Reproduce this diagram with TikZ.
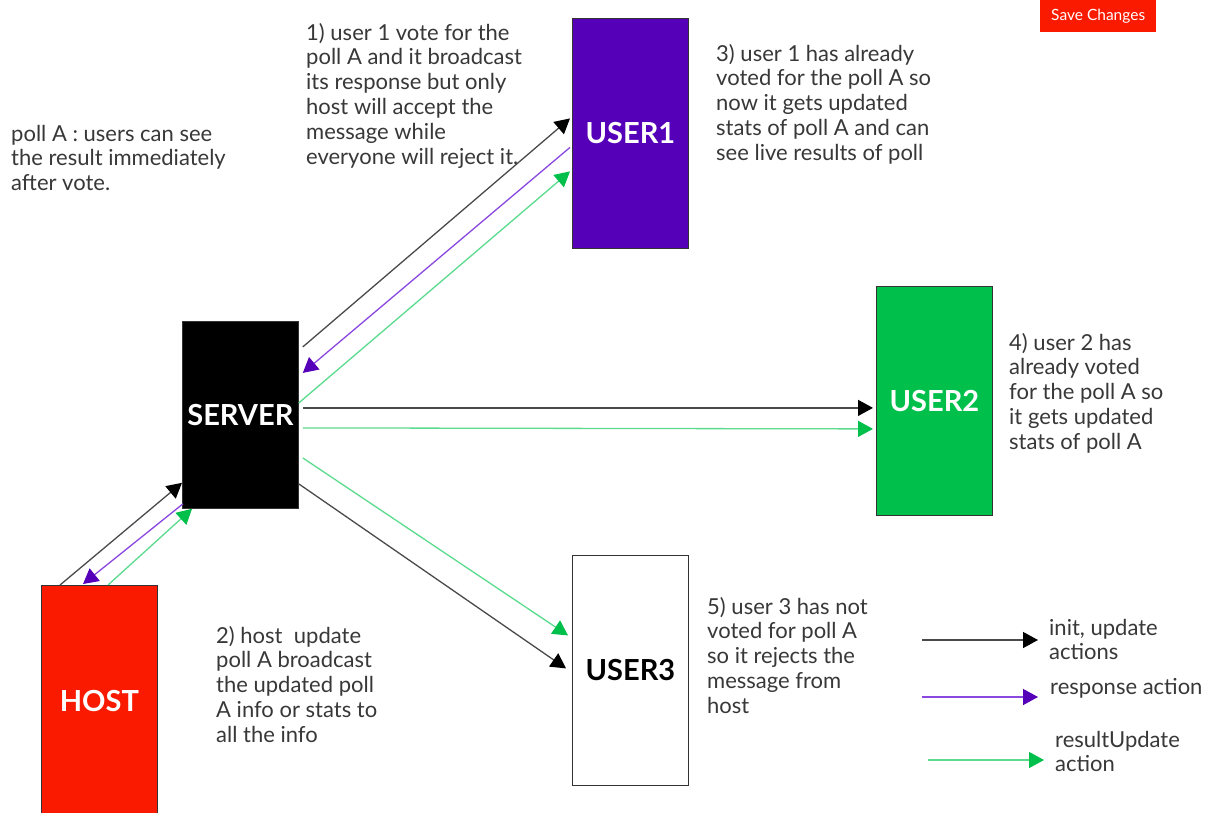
\documentclass[tikz,border=0pt]{standalone}
\usepackage{fontspec}
\setmainfont{Lato}
\usetikzlibrary{arrows.meta}

\definecolor{txt}{HTML}{383838}
\definecolor{userpurple}{HTML}{5500B8}
\definecolor{usergreen}{HTML}{00C04B}
\definecolor{hostred}{HTML}{F91A00}
\definecolor{lineblack}{HTML}{4A4A4A}
\definecolor{linepurple}{HTML}{8A48E0}
\definecolor{linegreen}{HTML}{5BDB8E}

\tikzset{
  actor/.style={draw=black!80, line width=0.8pt, anchor=north west, inner sep=0pt,
    minimum width=116pt, font=\fontsize{29}{30}\selectfont\bfseries, text=white},
  % notes are placed by the baseline of their last line
  note/.style={anchor=base west, align=left, inner sep=0pt, text=txt,
    font=\fontsize{22}{24.8}\selectfont},
  initarrow/.style={draw=lineblack, line width=1.3pt, -{Triangle[length=15pt, width=16pt, color=black]}},
  resparrow/.style={draw=linepurple, line width=1.3pt, -{Triangle[length=15pt, width=16pt, color=userpurple]}},
  resultarrow/.style={draw=linegreen, line width=1.3pt, -{Triangle[length=15pt, width=16pt, color=usergreen]}},
}

\begin{document}
\begin{tikzpicture}[x=1pt, y=-1pt]
\clip (0,0) rectangle (1206,812);
\fill[white] (0,0) rectangle (1206,812);

% save button
\node[fill=hostred, minimum width=116pt, minimum height=32pt, anchor=south west, inner sep=0pt,
  text=white, font=\fontsize{15.5}{16}\selectfont] (save) at (1040,32) {Save Changes};

% actors
\node[actor, fill=userpurple, minimum height=230pt] (user1) at (572,18) {USER1};
\node[actor, fill=black, minimum height=187pt] (server) at (182,321) {SERVER};
\node[actor, fill=usergreen, minimum height=229pt] (user2) at (876,286) {USER2};
\node[actor, fill=white, minimum height=230pt, text=black] (user3) at (572,555) {USER3};
\node[actor, fill=hostred, minimum height=232pt] (host) at (41,585) {HOST};

% notes
\node[note] (pollnote) at (11,190.6) {poll A : users can see\\the result immediately\\after vote.};
\node[note] (note1) at (306,164) {1) user 1 vote for the\\poll A and it broadcast\\its response but only\\host will accept the\\message while\\everyone will reject it.};
\node[note] (note3) at (716,160.2) {3) user 1 has already\\voted for the poll A so\\now it gets updated\\stats of poll A and can\\see live results of poll};
\node[note] (note4) at (1009,449.2) {4) user 2 has\\already voted\\for the poll A so\\it gets updated\\stats of poll A};
\node[note] (note2) at (216,742.2) {2) host\ \ update\\poll A broadcast\\the updated poll\\A info or stats to\\all the info};
\node[note] (note5) at (707,713.2) {5) user 3 has not\\voted for poll A\\so it rejects the\\message from\\host};

% server <-> user1
\draw[initarrow] ([shift={(4,-68)}]server.east) -- ([shift={(-2,-15)}]user1.west);
\draw[resparrow] ([shift={(-2,14)}]user1.west) -- ([shift={(4,-42)}]server.east);
\draw[resultarrow] ([shift={(0,-12)}]server.east) -- ([shift={(-2,38)}]user1.west);

% server -> user2
\draw[initarrow] ([shift={(4,-7)}]server.east) -- ([shift={(-3,7)}]user2.west);
\draw[resultarrow] ([shift={(4,13)}]server.east) -- ([shift={(-3,28)}]user2.west);

% server -> user3
\draw[resultarrow] ([shift={(4,43)}]server.east) -- ([shift={(-4,-35)}]user3.west);
\draw[initarrow] ([shift={(0,69)}]server.east) -- ([shift={(-6,-2)}]user3.west);

% host <-> server
\draw[initarrow] ([shift={(19,0)}]host.north west) -- ([shift={(0,-26)}]server.south west);
\draw[resparrow] ([shift={(1,-5)}]server.south west) -- ([shift={(42,-1)}]host.north west);
\draw[resultarrow] ([shift={(67,0)}]host.north west) -- ([shift={(10,0)}]server.south west);

% legend
\coordinate (legA1) at (922,640);
\coordinate (legA2) at (1038,640);
\coordinate (legB1) at (922,697);
\coordinate (legB2) at (1038,697);
\coordinate (legC1) at (928,760);
\coordinate (legC2) at (1044,760);
\draw[initarrow] (legA1) -- (legA2);
\draw[resparrow] (legB1) -- (legB2);
\draw[resultarrow] (legC1) -- (legC2);
\node[note] (legtxtA) at (1049,659.8) {init, update\\actions};
\node[note] (legtxtB) at (1050,694) {response action};
\node[note] (legtxtC) at (1055,771.8) {resultUpdate\\action};
\end{tikzpicture}
\end{document}
